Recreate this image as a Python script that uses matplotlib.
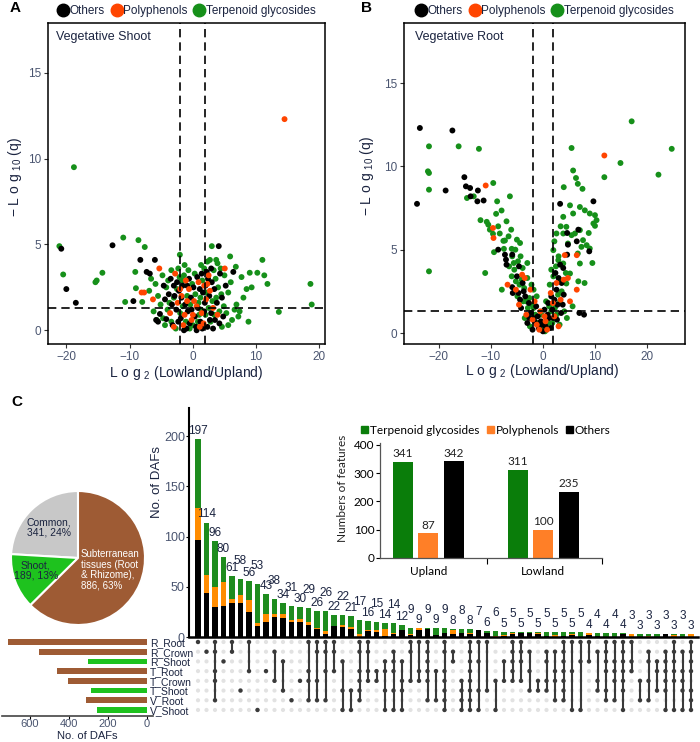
import numpy as np
import matplotlib
matplotlib.use('Agg')
import matplotlib.pyplot as plt
from matplotlib.lines import Line2D
from matplotlib.patches import Patch

plt.rcParams['font.family'] = ['Liberation Sans', 'DejaVu Sans']
plt.rcParams['mathtext.default'] = 'regular'

# ---------------- data ----------------
categories = ['Others', 'Polyphenols', 'Terpenoid glycosides']

# volcano A: vegetative shoot  (log2 FC, -log10 q)
shoot_others = [(-20.8, 4.75), (-20, 2.4), (-18.5, 1.6), (-12.7, 4.95), (-8.3, 4.1), (-6.0, 4.1), (-7.3, 3.4),
                (-6.8, 3.3), (-9.4, 1.7), (-5.2, 0.95), (-5.5, 0.5), (-4.2, 0.65), (-5.8, 0.6), (4.1, 4.9),
                (6.4, 3.4), (4.3, 3.3), (4.6, 1.9), (-3.5, 3.0), (-3.0, 2.6), (-2.5, 2.8), (-2.2, 2.3), (-1.6, 2.6),
                (-3.8, 2.1), (-1.2, 1.5), (-0.8, 1.1), (-2.6, 1.2), (-1.9, 0.7), (-0.5, 0.4), (0.3, 0.8), (0.8, 1.3),
                (1.2, 0.5), (1.6, 2.2), (2.0, 2.6), (2.4, 3.0), (2.2, 3.4), (2.6, 2.0), (3.0, 2.8), (3.4, 2.4),
                (3.8, 1.6), (2.9, 1.0), (3.5, 0.6), (4.2, 0.4), (1.9, 1.6), (2.3, 0.2), (-1.0, 0.1), (-3.2, 0.3),
                (5.2, 2.6), (4.8, 0.8), (-4.4, 1.8), (0.5, 0.2), (-0.3, 1.9), (0.1, 2.5), (0.7, 3.1), (1.1, 2.4),
                (1.4, 3.3), (-0.6, 3.0), (-1.8, 1.9), (-2.9, 2.0), (-3.3, 1.5), (-0.2, 1.2), (0.6, 0.0), (1.5, 0.1),
                (-1.4, 0.0), (2.7, 0.6), (3.2, 0.1), (-2.3, 0.5), (1.8, 1.1), (-0.9, 2.6), (2.9, 3.6), (-4.6, 2.6)]
shoot_poly = [(14.5, 12.3), (-8.1, 2.2), (-7.7, 2.2), (-6.3, 1.8), (-5.3, 3.6), (5.05, 3.6), (-2.8, 3.3), (-1.8, 2.0),
              (-2.4, 1.6), (-1.3, 0.9), (-0.6, 2.4), (0.2, 1.7), (1.4, 1.0), (2.1, 1.8), (2.7, 2.3), (1.7, 0.4),
              (-0.2, 0.6), (3.2, 1.3), (0.9, 2.8), (-3.6, 1.0), (2.5, 3.2), (-1.5, 0.3), (3.9, 0.9), (-0.9, 1.7),
              (0.6, 1.4), (1.1, 0.2), (-2.0, 2.4), (2.3, 2.7), (-1.1, 2.9), (0.0, 0.9), (1.8, 2.6), (-3.0, 0.2)]
shoot_terp = [(-18.8, 9.5), (-21.1, 4.9), (-20.5, 3.25), (-11, 5.4), (-8.6, 5.25), (-7.6, 4.85), (-14.3, 3.35),
              (-15.2, 2.9), (-15.4, 2.8), (-10.7, 1.65), (-9.0, 2.45), (-8.0, 1.65), (-9.1, 3.4), (-2.05, 4.4),
              (3.0, 4.9), (2.7, 4.1), (3.7, 4.1), (5.9, 4.3), (6.8, 3.7), (11.0, 4.1), (11.3, 3.2), (10.2, 3.35),
              (9.0, 3.35), (11.8, 2.7), (18.6, 2.7), (18.8, 1.5), (13.6, 1.07), (6.9, 1.5), (8.5, 2.4), (9.3, 2.5),
              (8.0, 1.9), (8.8, 0.5), (7.2, 0.8), (7.4, 1.1), (5.6, 2.2), (-5.7, 0.6), (-4.7, 0.7), (-6.6, 3.0),
              (-5.9, 2.7), (-4.8, 3.2), (-4.2, 2.5), (-3.4, 3.5), (-2.3, 3.6), (-3.9, 2.9), (-1.4, 3.2), (-0.9, 2.0),
              (-3.0, 1.9), (-2.0, 1.0), (-3.4, 0.5), (-1.1, 0.5), (-0.4, 1.5), (0.4, 2.1), (1.0, 0.9), (1.5, 2.9),
              (1.8, 3.6), (2.3, 4.0), (3.3, 3.5), (3.6, 3.0), (4.0, 2.5), (4.5, 2.1), (4.9, 1.4), (5.3, 1.0),
              (3.7, 1.9), (4.4, 3.6), (5.6, 0.3), (6.2, 0.6), (2.8, 0.5), (0.0, 0.3), (-2.7, 0.1), (1.2, 1.9),
              (-1.7, 2.9), (6.0, 2.8), (7.7, 3.1), (-6.9, 2.3), (-5.1, 1.5), (-4.0, 1.2), (4.2, 1.1), (2.0, 0.9),
              (-0.1, 2.7), (0.3, 3.3), (-0.7, 3.5), (0.9, 1.6), (1.3, 1.2), (-1.6, 1.4), (-2.5, 2.4), (-3.7, 1.6),
              (-4.4, 0.3), (2.5, 1.3), (3.1, 1.7), (3.4, 0.9), (4.6, 0.2), (-0.5, 0.1), (0.8, 0.5), (-2.1, 3.1),
              (2.1, 2.2), (1.3, 3.8), (-5.5, 2.0), (5.0, 3.2), (3.9, 3.9), (-1.3, 3.8), (6.6, 1.2), (-6.2, 1.1)]

# volcano B: vegetative root
root_others = [(-23.65, 12.3), (-17.4, 12.15), (-24.2, 7.75), (-18.7, 8.55), (-15.1, 9.35), (-14.8, 8.8),
               (-14.0, 8.7), (-12.5, 8.55), (-13.9, 8.2), (-12.6, 7.9), (-11.4, 7.95), (-8.6, 5.0), (-7.3, 4.7),
               (-7.0, 4.1), (-5.9, 4.7), (-7.1, 4.4), (-5.9, 2.75), (-5.8, 2.4), (-4.7, 2.4), (9.7, 7.9), (3.3, 7.75),
               (6.8, 6.2), (6.5, 5.5), (8.9, 4.9), (4.65, 6.0), (4.8, 5.3), (4.65, 4.7), (7.0, 1.2), (7.9, 1.1),
               (3.3, 4.1), (3.0, 3.3), (2.6, 2.6), (2.2, 2.0), (3.8, 1.7), (-3.9, 3.0), (-3.4, 2.2), (-2.7, 1.8),
               (-2.3, 1.2), (-1.6, 0.7), (-0.8, 0.3), (0.5, 0.4), (1.2, 0.9), (1.8, 1.4), (2.7, 0.8), (-3.0, 0.6),
               (-4.2, 1.5), (4.0, 2.3), (0.0, 0.1), (-1.3, 1.6), (1.0, 1.8), (2.4, 3.6), (3.6, 3.0), (-5.0, 3.4),
               (-2.0, 0.2), (-1.0, 1.0), (-0.4, 0.7), (0.3, 1.4), (0.9, 1.1), (1.5, 0.3), (2.0, 0.9), (-1.9, 0.9),
               (-2.6, 0.9), (-3.7, 2.5), (2.8, 1.7), (3.5, 1.2), (-0.1, 0.5), (-4.4, 2.0), (1.6, 2.2), (3.9, 3.9),
               (-4.6, 4.0)]
root_poly = [(-11.0, 8.85), (-9.6, 6.3), (-9.5, 5.7), (-6.8, 2.9), (11.8, 10.65), (6.5, 4.67), (4.2, 4.67),
             (4.8, 3.3), (6.5, 2.6), (5.2, 1.9), (-4.0, 3.5), (-3.2, 1.1), (-2.4, 2.6), (-1.2, 0.5), (-0.5, 1.3),
             (0.8, 0.2), (1.5, 2.4), (2.2, 1.0), (3.4, 2.0), (-4.6, 1.7), (-2.0, 0.8), (3.0, 0.4), (0.3, 1.0),
             (-1.6, 1.9), (1.9, 1.8), (2.6, 3.0), (-3.5, 3.3), (0.5, 0.7), (-0.7, 0.2), (4.0, 3.2), (-5.2, 2.6)]
root_terp = [(-21.9, 11.2), (-16.2, 11.2), (-12.3, 11.05), (-22.1, 9.7), (-21.9, 9.6), (-21.9, 8.6), (-9.55, 9.0),
             (-6.35, 8.2), (-21.9, 3.7), (-11.1, 3.6), (-12.0, 6.77), (-10.8, 6.67), (-10.5, 6.5), (-9.0, 7.15),
             (-7.95, 7.35), (-7.0, 6.7), (-10.2, 6.2), (-8.6, 6.4), (-8.3, 5.97), (-9.6, 5.95), (-7.6, 5.53),
             (-7.3, 5.55), (-9.4, 4.85), (-7.5, 5.05), (-6.0, 5.05), (-4.4, 5.4), (-5.9, 4.6), (-7.9, 2.6),
             (-13.3, 8.2), (-6.5, 4.0), (-5.5, 3.8), (-4.8, 4.3), (-3.9, 3.9), (-5.2, 3.1), (-4.5, 2.9), (-3.6, 2.7),
             (-3.0, 3.3), (-2.6, 2.1), (-4.9, 2.2), (-3.8, 1.9), (-2.9, 1.5), (-2.1, 1.7), (-1.5, 1.1), (-3.5, 0.9),
             (-0.9, 0.6), (-2.5, 0.4), (17.05, 12.7), (24.75, 11.05), (14.9, 10.2), (22.2, 9.5), (5.5, 11.1),
             (11.8, 9.35), (5.8, 9.75), (6.35, 9.3), (6.7, 8.95), (7.6, 8.65), (4.0, 8.75), (3.9, 6.97), (5.2, 7.66),
             (5.8, 7.17), (7.1, 7.56), (8.05, 7.36), (9.0, 7.17), (10.0, 7.07), (10.3, 6.77), (9.7, 6.57),
             (10.0, 6.43), (4.5, 6.37), (6.15, 5.97), (7.1, 6.17), (7.7, 5.57), (8.4, 5.27), (9.0, 5.07), (7.4, 5.17),
             (6.7, 4.77), (7.1, 4.17), (9.5, 4.2), (5.5, 5.87), (4.8, 5.37), (3.9, 5.97), (2.6, 5.97), (2.0, 4.97),
             (2.95, 4.37), (3.9, 4.17), (5.2, 3.57), (4.5, 2.97), (3.3, 3.17), (1.0, 0.6), (1.6, 1.3), (2.3, 1.5),
             (2.9, 2.3), (3.6, 2.5), (4.1, 1.3), (1.3, 2.9), (2.0, 3.4), (0.6, 1.9), (0.2, 0.5), (3.2, 0.5),
             (4.6, 0.9), (5.7, 1.6), (6.8, 3.1), (8.0, 3.0), (8.8, 6.0), (2.5, 4.0), (-0.3, 0.2), (-1.8, 2.6),
             (-6.1, 6.2), (-5.0, 5.6), (-8.8, 7.9), (-14.6, 8.1), (-1.2, 2.2), (-0.3, 1.1), (0.4, 0.1), (1.2, 1.6),
             (1.8, 0.6), (2.6, 1.1), (3.3, 1.9), (-1.8, 1.5), (-2.2, 2.9), (-3.2, 1.9), (-4.1, 3.2), (-4.3, 4.6),
             (-5.6, 4.2), (-6.0, 3.4), (4.4, 3.6), (3.0, 4.6), (2.2, 5.5), (3.4, 6.4), (1.6, 3.8), (-5.3, 5.0),
             (-6.6, 5.8), (-3.0, 4.2)]

# pie
pie_labels = ['Common,\n341, 24%', 'Shoot,\n189, 13%', 'Subterranean\ntissues (Root\n& Rhizome),\n886, 63%']
pie_values = [341, 189, 886]

# upset: stacked intersection sizes (others / polyphenols / terpenoid glycosides)
inter_others = [97, 44, 30, 31, 34, 34, 25, 11, 15, 20, 19, 15, 15, 12, 8, 3, 11, 10, 8, 0, 6, 5, 1, 3, 7,
                2, 7, 8, 2, 4, 3, 4, 3, 7, 4, 0, 1, 3, 4, 4, 3, 1, 0, 1, 2, 0, 2, 1, 0, 0, 3, 0, 0, 0, 0, 3, 0, 0, 0]
inter_poly = [31, 18, 20, 24, 4, 8, 12, 3, 8, 3, 4, 2, 3, 3, 1, 3, 0, 2, 2, 3, 1, 2, 7, 1, 0,
              1, 2, 0, 0, 0, 4, 0, 1, 0, 0, 1, 1, 1, 0, 0, 1, 0, 2, 0, 1, 0, 2, 0, 0, 0, 0, 3, 0, 1, 0, 0, 2, 0, 3]
inter_terp = [69, 52, 46, 25, 23, 16, 19, 39, 20, 15, 11, 14, 12, 14, 17, 20, 11, 10, 11, 14, 9, 8, 6, 10, 5,
              6, 0, 1, 7, 5, 1, 4, 4, 0, 2, 5, 3, 1, 1, 1, 1, 4, 3, 4, 2, 5, 0, 3, 4, 4, 1, 0, 3, 2, 3, 0, 1, 3, 0]
# membership of each intersection (row indices into set_names)
intersections = [[0], [1], [0, 1, 3, 4, 6], [2], [0, 1], [5], [0, 3], [7], [3], [1, 4], [2, 5], [6], [4],
                 [0, 3, 4, 6], [0, 1, 4, 6], [0, 1, 3, 6], [0, 1, 3], [2, 5, 7], [5, 7], [0, 1, 3, 4, 5, 6],
                 [0, 1, 3, 4], [3, 4], [2, 3, 5, 7], [1, 2, 3, 5, 7], [2, 4, 5, 7], [0, 1, 4], [0, 3, 4],
                 [0, 1, 2, 3, 4, 6], [3, 6], [0, 1, 3, 4, 5, 6, 7], [1, 2], [4, 5, 6, 7], [0, 1, 2, 3, 4, 5, 6, 7],
                 [0, 2, 5, 7], [0, 5], [4, 7], [2, 4], [0, 1, 2, 3, 4], [0, 1, 2, 4], [1, 3, 5], [4, 5],
                 [1, 2, 4, 5], [1, 3, 4, 6], [0, 1, 2, 3, 4, 5, 6], [0, 3, 7], [0, 2, 7], [0, 2], [1, 4, 5],
                 [0, 1, 2, 3, 5, 6], [0, 2, 3, 4, 6], [0, 1, 2, 3, 4, 5, 7], [0, 2, 3], [4, 6], [1, 2, 4, 6],
                 [2, 3, 5], [1, 2, 3, 4, 5, 7], [0, 1, 2, 3, 4, 7], [1, 3, 4, 5, 7], [0, 1, 2, 3, 5, 6, 7]]
set_names = ['R_Root', 'R_Crown', 'R_Shoot', 'T_Root', 'T_Crown', 'T_Shoot', 'V_Root', 'V_Shoot']
set_sizes = [713, 553, 302, 460, 405, 288, 313, 257]

# inset bar chart
inset_groups = ['Upland', 'Lowland']
inset_terp = [341, 311]
inset_poly = [87, 100]
inset_others = [342, 235]

# ---------------- figure ----------------
W, H = 700, 742
fig = plt.figure(figsize=(W / 100, H / 100), dpi=100)
navy = '#1b2440'
tick_col = '#4a5570'


def box(l, t, r, b):
    return [l / W, 1 - b / H, (r - l) / W, (b - t) / H]


def ftext(x, y, s, **kw):
    fig.text(x / W, 1 - y / H, s, **kw)


vol_colors = {'Others': 'black', 'Polyphenols': '#ff4500', 'Terpenoid glycosides': '#16901a'}


def volcano(rect_px, groups, xlim, ylim, title, title_x):
    ax = fig.add_axes(box(*rect_px))
    for name in ['Terpenoid glycosides', 'Others', 'Polyphenols']:
        pts = np.array(groups[name])
        ax.scatter(pts[:, 0], pts[:, 1], s=18, color=vol_colors[name], edgecolors='none', zorder=2)
    for xv in (-2, 2):
        ax.axvline(xv, color='black', lw=1.2, ls=(0, (5, 3)), zorder=3)
    ax.axhline(1.3, color='black', lw=1.2, ls=(0, (5, 3)), zorder=3)
    ax.set_xlim(xlim)
    ax.set_ylim(ylim)
    ax.set_xticks([-20, -10, 0, 10, 20])
    ax.set_yticks([0, 5, 10, 15])
    ax.tick_params(labelsize=8.5, labelcolor=tick_col, length=3, width=0.8, color='#333333', pad=2)
    for sp in ax.spines.values():
        sp.set_linewidth(1.1)
    ax.text(title_x, 0.975, title, transform=ax.transAxes, ha='left', va='top', fontsize=9, color=navy)
    handles = [Line2D([], [], ls='', marker='o', ms=9, color=vol_colors[n]) for n in categories]
    ax.legend(handles, categories, loc='center', bbox_to_anchor=(0.5, 1 + 12 / 321), ncol=3, frameon=False,
              fontsize=8.5, handletextpad=0.05, columnspacing=0.5, borderpad=0, handlelength=1.0,
              labelcolor=navy)
    return ax


volcano((48, 23, 325, 344),
        {'Others': shoot_others, 'Polyphenols': shoot_poly, 'Terpenoid glycosides': shoot_terp},
        (-22.9, 20.9), (-0.8, 17.9), 'Vegetative Shoot', 0.029)
volcano((404, 23, 685, 344),
        {'Others': root_others, 'Polyphenols': root_poly, 'Terpenoid glycosides': root_terp},
        (-26.7, 27.3), (-0.66, 18.6), 'Vegetative Root', 0.039)

for x, y in ((15, 177), (367, 176)):
    ftext(x, y, r'− L o g $_{10}$ (q)', rotation=90, ha='center', va='center', fontsize=10, color=navy)
for x, y in ((186, 373), (542, 371)):
    ftext(x, y, r'L o g $_{2}$ (Lowland/Upland)', ha='center', va='center', fontsize=10, color=navy)

ftext(15, 8, 'A', fontsize=11, fontweight='bold', ha='center', va='center')
ftext(367, 8, 'B', fontsize=11, fontweight='bold', ha='center', va='center')
ftext(17, 402, 'C', fontsize=11, fontweight='bold', ha='center', va='center')

# ---- pie ----
axp = fig.add_axes(box(11, 491, 145, 625))
axp.pie(pie_values, colors=['#c8c8c8', '#1ec21e', '#9e5b34'], startangle=90, counterclock=True, radius=1,
        wedgeprops=dict(edgecolor='white', linewidth=1.5))
axp.set_xlim(-1, 1)
axp.set_ylim(-1, 1)
axp.set_aspect('equal')
axp.text(-0.43, 0.45, pie_labels[0], ha='center', va='center', fontsize=7.5, color=navy, linespacing=1.0)
axp.text(-0.63, -0.19, pie_labels[1], ha='center', va='center', fontsize=7.5, color=navy, linespacing=1.0)
axp.text(0.04, -0.18, pie_labels[2], ha='left', va='center', fontsize=7, color='white', linespacing=1.05)

# ---- upset intersection bars ----
others_a = np.array(inter_others)
poly_a = np.array(inter_poly)
terp_a = np.array(inter_terp)
totals = others_a + poly_a + terp_a
xpos = np.arange(len(totals))
xl = (-9 / 8.5, 500 / 8.5)

axu = fig.add_axes(box(189, 408, 698, 637))
axu.bar(xpos, others_a, width=0.7, color='black')
axu.bar(xpos, poly_a, width=0.7, bottom=others_a, color='#ff8c00')
axu.bar(xpos, terp_a, width=0.7, bottom=others_a + poly_a, color='#1e8c1e')
for i, t in enumerate(totals):
    off = 2 + (10 if (i >= 4 and i % 2 == 1) else 0)
    axu.text(i, t + off, str(t), ha='center', va='bottom', fontsize=8.5, color=navy, clip_on=False)
axu.set_xlim(xl)
axu.set_ylim(0, 228)
axu.set_yticks([0, 50, 100, 150, 200])
axu.set_xticks([])
axu.spines[['top', 'right']].set_visible(False)
axu.spines['left'].set_linewidth(1.5)
axu.spines['bottom'].set_linewidth(1.8)
axu.tick_params(axis='y', labelsize=9, labelcolor=tick_col, length=2, pad=1)
ftext(157, 482, 'No. of DAFs', rotation=90, ha='center', va='center', fontsize=9.5, color=navy)

# ---- matrix ----
row_y0, row_dy = 642, 9.71
ylim_m = ((716 - row_y0) / row_dy, (636 - row_y0) / row_dy)
axm = fig.add_axes(box(189, 636, 698, 716))
for i in xpos:
    axm.scatter([i] * len(set_names), range(len(set_names)), s=9, color='#e2e2e2', edgecolors='none', zorder=1)
for i, members in enumerate(intersections):
    if len(members) > 1:
        axm.plot([i, i], [min(members), max(members)], color='#3a3a3a', lw=1.5, zorder=2)
    axm.scatter([i] * len(members), members, s=10, color='#3a3a3a', edgecolors='none', zorder=3)
axm.set_xlim(xl)
axm.set_ylim(ylim_m)
axm.axis('off')

# ---- set sizes ----
axs = fig.add_axes(box(2, 636, 153, 716))
set_cols = ['#1ec21e' if n.endswith('Shoot') else '#9e5b34' for n in set_names]
axs.barh(range(len(set_names)), set_sizes, height=0.58, color=set_cols)
axs.set_xlim(743, -30)
axs.set_ylim(ylim_m)
axs.set_yticks([])
axs.set_xticks([600, 400, 200, 0])
axs.spines[['top', 'right', 'left']].set_visible(False)
axs.spines['bottom'].set_linewidth(1.2)
axs.spines['bottom'].set_color('#444444')
axs.tick_params(axis='x', labelsize=8, labelcolor=tick_col, length=2, pad=0.5)
ftext(87, 736, 'No. of DAFs', ha='center', va='center', fontsize=8, color=navy)
for r, name in enumerate(set_names):
    ftext(150, row_y0 + 1 + r * row_dy, name, ha='left', va='center', fontsize=7.5, color=navy)

# ---- inset bar chart ----
ifont = ['Lato', 'DejaVu Sans']
axi = fig.add_axes(box(380, 443, 602, 558))
gx = np.arange(len(inset_groups))
bw, gap = 0.174, 0.222
for off, vals, col in ((-gap, inset_terp, '#0a7d0a'), (0, inset_poly, '#ff7f27'), (gap, inset_others, 'black')):
    axi.bar(gx + off, vals, width=bw, color=col)
    for xg, v in zip(gx + off, vals):
        axi.annotate(str(v), (xg, v), xytext=(0, 2), textcoords='offset points', ha='center', va='bottom',
                     fontsize=8.5, family=ifont, color='#222222')
axi.set_xlim(-0.42, 1.51)
axi.set_ylim(0, 407)
axi.set_yticks([0, 100, 200, 300, 400])
axi.set_xticks(gx)
axi.set_xticklabels(inset_groups, family=ifont, fontsize=8.5)
axi.set_xticks([0.51, 1.51], minor=True)
axi.tick_params(axis='x', which='major', length=0, pad=6)
axi.tick_params(axis='x', which='minor', length=4, width=0.8)
axi.tick_params(axis='y', labelsize=8.5, length=3, width=0.8, pad=1)
for lab in axi.get_yticklabels():
    lab.set_family(ifont)
axi.spines[['top', 'right']].set_visible(False)
for sp in ('left', 'bottom'):
    axi.spines[sp].set_color('#555555')
    axi.spines[sp].set_linewidth(0.9)
ftext(342, 488, 'Numbers of features', rotation=90, ha='center', va='center', fontsize=8.5, family=ifont,
      color='#222222')
leg_handles = [Patch(color=c) for c in ('#0a7d0a', '#ff7f27', 'black')]
fig.legend(leg_handles, ['Terpenoid glycosides', 'Polyphenols', 'Others'], loc='center',
           bbox_to_anchor=(486 / W, 1 - 430 / H), ncol=3, frameon=False, handlelength=0.6, handleheight=0.6,
           handletextpad=0.15, columnspacing=0.6, borderpad=0, prop={'family': ifont, 'size': 8.5})

fig.savefig('out.png', dpi=100)
